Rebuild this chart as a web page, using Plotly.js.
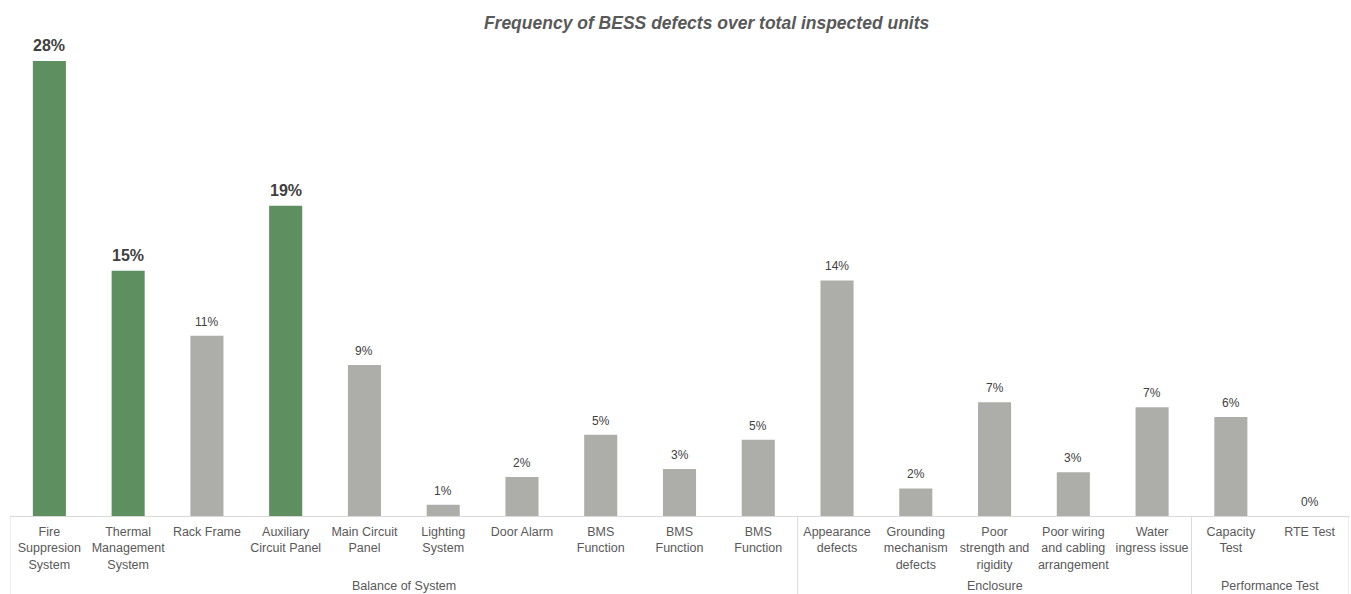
<!DOCTYPE html>
<html>
<head>
<meta charset="utf-8">
<script src="https://cdn.plot.ly/plotly-3.0.1.min.js"></script>
<style>html,body{margin:0;padding:0;background:#fff;}#chart{width:1351px;height:594px;}</style>
</head>
<body>
<div id="chart"></div>
<script>
const categories = [
  "Fire<br>Suppresion<br>System",
  "Thermal<br>Management<br>System",
  "Rack Frame",
  "Auxiliary<br>Circuit Panel",
  "Main Circuit<br>Panel",
  "Lighting<br>System",
  "Door Alarm",
  "BMS<br>Function",
  "BMS<br>Function",
  "BMS<br>Function",
  "Appearance<br>defects",
  "Grounding<br>mechanism<br>defects",
  "Poor<br>strength and<br>rigidity",
  "Poor wiring<br>and cabling<br>arrangement",
  "Water<br>ingress issue",
  "Capacity<br>Test",
  "RTE Test"
];
const groups = [
  "Balance of System","Balance of System","Balance of System","Balance of System","Balance of System",
  "Balance of System","Balance of System","Balance of System","Balance of System","Balance of System",
  "Enclosure","Enclosure","Enclosure","Enclosure","Enclosure",
  "Performance Test","Performance Test"
];
const values = [28.0, 15.1, 11.1, 19.1, 9.3, 0.7, 2.4, 5.0, 2.9, 4.7, 14.5, 1.7, 7.0, 2.7, 6.7, 6.1, 0.0];
const labels = ["28%","15%","11%","19%","9%","1%","2%","5%","3%","5%","14%","2%","7%","3%","7%","6%","0%"];
const highlighted = [true,true,false,true,false,false,false,false,false,false,false,false,false,false,false,false,false];

const GREEN = "#5e8f60", GREY = "#adadaa", TXT = "#595959", LBL = "#404040";
const FONT = "Liberation Sans, Arial, sans-serif";
const xs = categories.map((_, i) => i);

const trace = {
  type: "bar",
  x: xs,
  y: values,
  marker: {color: highlighted.map(h => h ? GREEN : GREY)},
  hoverinfo: "none"
};

// group spans
const spans = [];
groups.forEach((g, i) => {
  if (!spans.length || spans[spans.length - 1].name !== g) spans.push({name: g, start: i, end: i});
  else spans[spans.length - 1].end = i;
});

const shapes = [];
const bounds = [-0.5].concat(spans.map(s => s.end + 0.5));
bounds.forEach(b => shapes.push({
  type: "line", xref: "x", yref: "paper", yanchor: 0, ysizemode: "pixel",
  x0: b, x1: b, y0: 0, y1: -78,
  line: {color: "#d9d9d9", width: 1}
}));

const annotations = spans.map(s => ({
  text: s.name, xref: "x", yref: "paper", x: (s.start + s.end) / 2, y: 0,
  yanchor: "middle", yshift: -70, showarrow: false,
  font: {family: FONT, size: 12.5, color: TXT}
}));

values.forEach((v, i) => annotations.push({
  text: highlighted[i] ? "<b>" + labels[i] + "</b>" : labels[i],
  xref: "x", yref: "y", x: xs[i], y: v,
  yanchor: "bottom", yshift: highlighted[i] ? 5 : 5, showarrow: false,
  font: {family: FONT, size: highlighted[i] ? 16 : 12, color: LBL}
}));

const layout = {
  width: 1351, height: 594,
  margin: {l: 10, r: 2, t: 40, b: 78},
  paper_bgcolor: "#fff", plot_bgcolor: "#fff",
  showlegend: false,
  bargap: 0.58,
  title: {
    text: "<b><i>Frequency of BESS defects over total inspected units</i></b>",
    x: 0.523, xanchor: "center", y: 0.961, yanchor: "middle", yref: "container",
    font: {family: FONT, size: 17.5, color: TXT}
  },
  xaxis: {
    range: [-0.5, categories.length - 0.5],
    tickmode: "array", tickvals: xs, ticktext: categories,
    showgrid: false, zeroline: false,
    showline: true, linecolor: "#d9d9d9", linewidth: 1,
    ticks: "", ticklabelstandoff: 4,
    tickfont: {family: FONT, size: 12.5, color: TXT},
    fixedrange: true
  },
  yaxis: {
    range: [0, 29.3], visible: false, showgrid: false, zeroline: false, fixedrange: true
  },
  shapes: shapes,
  annotations: annotations
};

Plotly.newPlot("chart", [trace], layout, {displayModeBar: false, staticPlot: true});
</script>
</body>
</html>
